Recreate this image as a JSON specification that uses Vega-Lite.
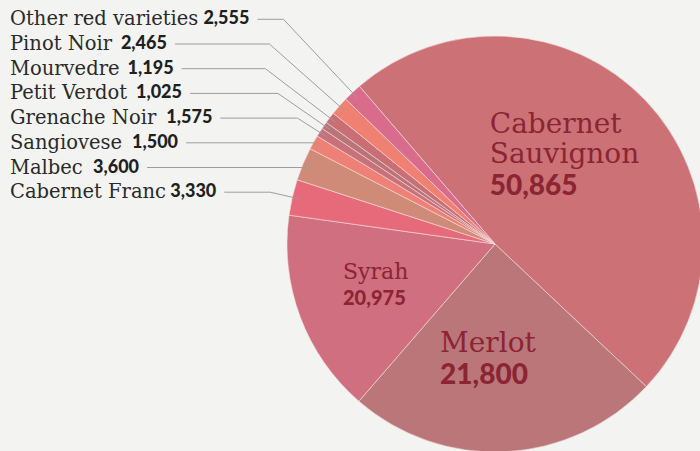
{
  "$schema": "https://vega.github.io/schema/vega-lite/v6.json",
  "width": 410,
  "height": 414,
  "autosize": {"type": "none"},
  "padding": {"left": 290, "top": 37, "right": 0, "bottom": 0},
  "background": "#f3f4f2",
  "config": {"view": {"stroke": null}},
  "data": {
    "values": [
      {"name": "Cabernet Sauvignon", "acres": 50865, "share": 48.33, "seq": 1},
      {"name": "Merlot", "acres": 21800, "share": 24.33, "seq": 2},
      {"name": "Syrah", "acres": 20975, "share": 15.86, "seq": 3},
      {"name": "Cabernet Franc", "acres": 3330, "share": 2.78, "seq": 4},
      {"name": "Malbec", "acres": 3600, "share": 2.58, "seq": 5},
      {"name": "Sangiovese", "acres": 1500, "share": 1.11, "seq": 6},
      {"name": "Grenache Noir", "acres": 1575, "share": 0.69, "seq": 7},
      {"name": "Petit Verdot", "acres": 1025, "share": 0.56, "seq": 8},
      {"name": "Mourvedre", "acres": 1195, "share": 0.89, "seq": 9},
      {"name": "Pinot Noir", "acres": 2465, "share": 1.44, "seq": 10},
      {"name": "Other red varieties", "acres": 2555, "share": 1.43, "seq": 11}
    ]
  },
  "transform": [
    {"stack": "share", "groupby": [], "sort": [{"field": "seq", "order": "ascending"}], "as": ["a0", "a1"]}
  ],
  "layer": [
    {
      "mark": {"type": "arc", "outerRadius": 208, "stroke": "#f5dede", "strokeWidth": 0.6},
      "encoding": {
        "theta": {"field": "a0", "type": "quantitative", "scale": {"domain": [0, 100], "range": [-0.71035, 5.57284]}},
        "theta2": {"field": "a1"},
        "color": {
          "field": "name",
          "type": "nominal",
          "scale": {
            "domain": ["Cabernet Sauvignon", "Merlot", "Syrah", "Cabernet Franc", "Malbec", "Sangiovese", "Grenache Noir", "Petit Verdot", "Mourvedre", "Pinot Noir", "Other red varieties"],
            "range": ["#cc7276", "#bb767a", "#d06f80", "#e66a79", "#d08a78", "#ee8075", "#c8717a", "#b87479", "#c86e74", "#ef8072", "#d96c8c"]
          },
          "legend": null
        }
      }
    },
    {
      "transform": [{"filter": "datum.seq >= 4"}],
      "mark": {"type": "text", "align": "left", "baseline": "middle", "font": "DejaVu Serif", "fontSize": 19.5, "color": "#2a2a2a", "x": -280},
      "encoding": {
        "y": {
          "field": "name",
          "type": "nominal",
          "scale": {"type": "point", "domain": ["Other red varieties", "Pinot Noir", "Mourvedre", "Petit Verdot", "Grenache Noir", "Sangiovese", "Malbec", "Cabernet Franc"], "range": [-17.7, 155.2], "padding": 0},
          "axis": null
        },
        "text": {"field": "name"}
      }
    },
    {
      "transform": [{"filter": "datum.seq >= 4"}],
      "mark": {"type": "text", "align": "left", "baseline": "middle", "font": "Lato", "fontWeight": 900, "fontSize": 18, "color": "#1f1f1f"},
      "encoding": {
        "y": {"field": "name", "type": "nominal", "axis": null},
        "x": {"value": {"expr": "-280 + 19.5*(0.6*length(datum.name) - 0.23*length(replace(datum.name, regexp('[^ilrtfj ]', 'g'), '')) + 0.15*length(replace(datum.name, regexp('[^A-Z]', 'g'), '')) + 0.2*length(replace(datum.name, regexp('[^Mmw]', 'g'), '')) - 0.1*length(replace(datum.name, regexp('[^tsS]', 'g'), '')) + 0.1*length(replace(datum.name, regexp('[^dhuNG]', 'g'), ''))) + 10.5"}},
        "text": {"field": "acres", "type": "quantitative", "format": ","}
      }
    },
    {
      "transform": [{"filter": "datum.seq >= 4"}],
      "mark": {"type": "rule", "color": "#9d9d9d", "strokeWidth": 1},
      "encoding": {
        "y": {"field": "name", "type": "nominal", "axis": null},
        "x": {"value": {"expr": "-280 + 19.5*(0.6*length(datum.name) - 0.23*length(replace(datum.name, regexp('[^ilrtfj ]', 'g'), '')) + 0.15*length(replace(datum.name, regexp('[^A-Z]', 'g'), '')) + 0.2*length(replace(datum.name, regexp('[^Mmw]', 'g'), '')) - 0.1*length(replace(datum.name, regexp('[^tsS]', 'g'), '')) + 0.1*length(replace(datum.name, regexp('[^dhuNG]', 'g'), ''))) + 64.5"}},
        "x2": {"value": {"expr": "(width/2 + 201*sin(scale('theta', (datum.a0 + datum.a1)/2))) + ((height/2 - 201*cos(scale('theta', (datum.a0 + datum.a1)/2))) - scale('y', datum.name)) / cos(scale('theta', (datum.a0 + datum.a1)/2)) * sin(scale('theta', (datum.a0 + datum.a1)/2))"}}
      }
    },
    {
      "transform": [{"filter": "datum.seq >= 4"}],
      "mark": {"type": "rule", "color": "#9d9d9d", "strokeWidth": 1},
      "encoding": {
        "y": {"field": "name", "type": "nominal", "axis": null},
        "x": {"value": {"expr": "(width/2 + 201*sin(scale('theta', (datum.a0 + datum.a1)/2))) + ((height/2 - 201*cos(scale('theta', (datum.a0 + datum.a1)/2))) - scale('y', datum.name)) / cos(scale('theta', (datum.a0 + datum.a1)/2)) * sin(scale('theta', (datum.a0 + datum.a1)/2))"}},
        "x2": {"value": {"expr": "width/2 + 201*sin(scale('theta', (datum.a0 + datum.a1)/2))"}},
        "y2": {"value": {"expr": "height/2 - 201*cos(scale('theta', (datum.a0 + datum.a1)/2))"}}
      }
    },
    {
      "transform": [{"filter": "datum.seq <= 3"}],
      "mark": {"type": "text", "align": "left", "baseline": "alphabetic", "font": "DejaVu Serif", "color": "#8b2433", "lineBreak": " ", "lineHeight": 30, "fontSize": {"expr": "datum.acres >= 21000 ? 28 : 22"}},
      "encoding": {
        "x": {"value": {"expr": "width/2 + 112*sin(scale('theta', (datum.a0 + datum.a1)/2)) - 15 - (0.6*length(datum.name) - 0.23*length(replace(datum.name, regexp('[^ilrtfj ]', 'g'), '')) + 0.15*length(replace(datum.name, regexp('[^A-Z]', 'g'), '')) + 0.2*length(replace(datum.name, regexp('[^Mmw]', 'g'), ''))) * (datum.acres >= 21000 ? 28 : 22) / (1 + length(replace(datum.name, regexp('[^ ]', 'g'), ''))) / 2"}},
        "y": {"value": {"expr": "height/2 - 112*cos(scale('theta', (datum.a0 + datum.a1)/2)) + 1 - 5 - 30*length(replace(datum.name, regexp('[^ ]', 'g'), ''))"}},
        "text": {"field": "name"}
      }
    },
    {
      "transform": [{"filter": "datum.seq <= 3"}],
      "mark": {"type": "text", "align": "left", "baseline": "top", "font": "Lato", "fontWeight": 900, "color": "#8b2433", "fontSize": {"expr": "datum.acres >= 21000 ? 28 : 20"}},
      "encoding": {
        "x": {"value": {"expr": "width/2 + 112*sin(scale('theta', (datum.a0 + datum.a1)/2)) - 15 - (0.6*length(datum.name) - 0.23*length(replace(datum.name, regexp('[^ilrtfj ]', 'g'), '')) + 0.15*length(replace(datum.name, regexp('[^A-Z]', 'g'), '')) + 0.2*length(replace(datum.name, regexp('[^Mmw]', 'g'), ''))) * (datum.acres >= 21000 ? 28 : 22) / (1 + length(replace(datum.name, regexp('[^ ]', 'g'), ''))) / 2"}},
        "y": {"value": {"expr": "height/2 - 112*cos(scale('theta', (datum.a0 + datum.a1)/2)) + 1 + 5"}},
        "text": {"field": "acres", "type": "quantitative", "format": ","}
      }
    }
  ]
}
